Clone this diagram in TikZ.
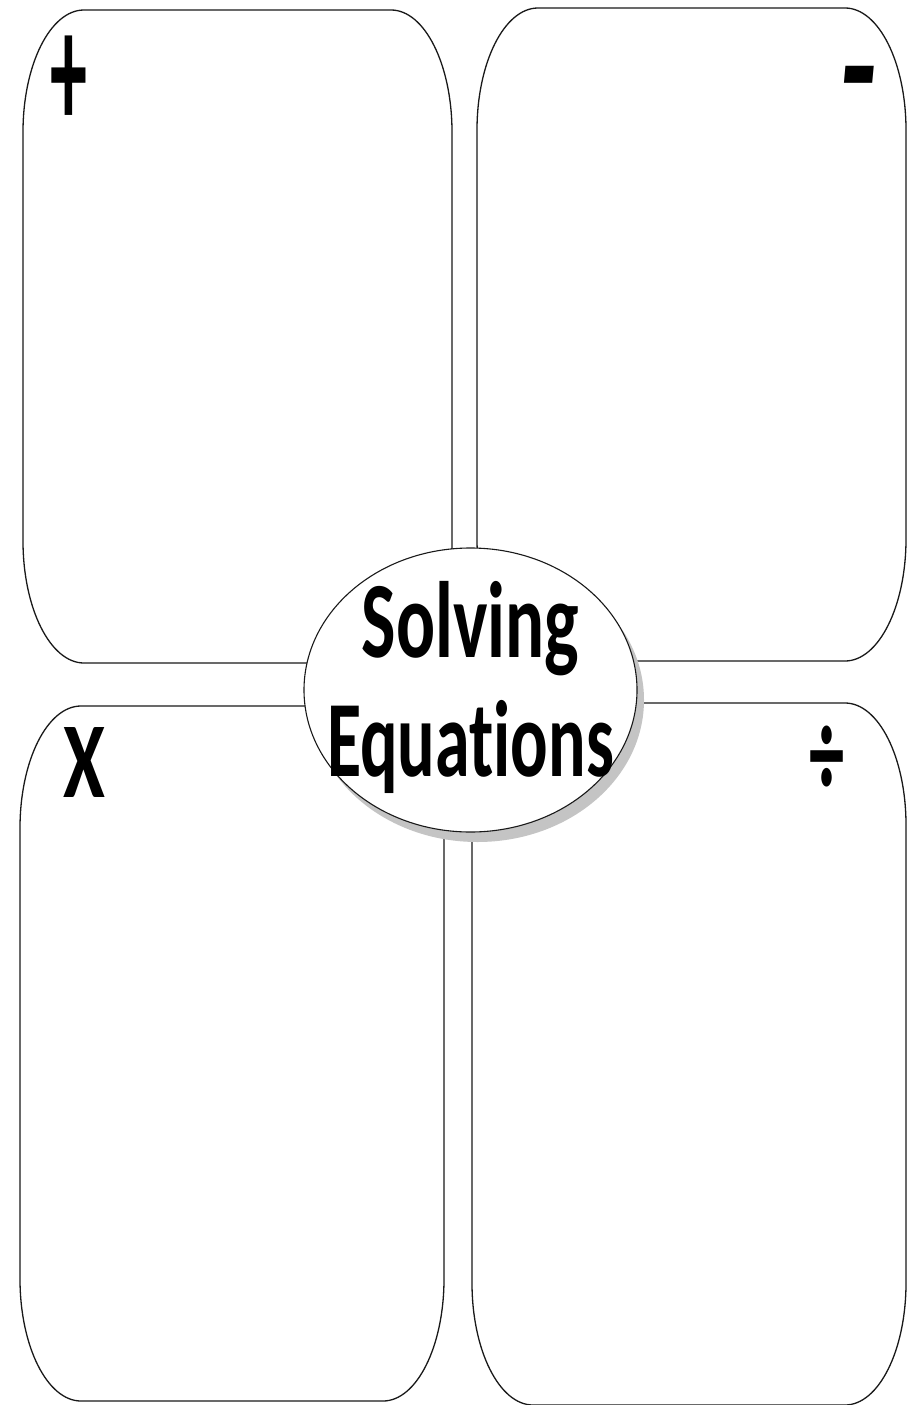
\documentclass[tikz,border=0pt]{standalone}
\usepackage{fontspec}
\setmainfont{Carlito}[Ligatures=NoCommon]
\usetikzlibrary{shapes.geometric,shadows}
\newcommand\rx{61}
\newcommand\ry{122}
\newcommand\ebox[4]{%
\draw[boxline] (#1+\rx,#2) -- (#3-\rx,#2)
 .. controls (#3-0.448*\rx,#2) and (#3,#2+0.448*\ry) .. (#3,#2+\ry)
 -- (#3,#4-\ry)
 .. controls (#3,#4-0.448*\ry) and (#3-0.448*\rx,#4) .. (#3-\rx,#4)
 -- (#1+\rx,#4)
 .. controls (#1+0.448*\rx,#4) and (#1,#4-0.448*\ry) .. (#1,#4-\ry)
 -- (#1,#2+\ry)
 .. controls (#1,#2+0.448*\ry) and (#1+0.448*\rx,#2) .. cycle;}
\tikzset{
  boxline/.style={draw=black!90, line width=1.3pt},
  sym/.style={inner sep=0pt, font=\bfseries},
  hub/.style={ellipse, draw=black!90, line width=1.1pt, fill=white, inner sep=0pt,
    minimum width=333pt, minimum height=284pt,
    drop shadow={shadow xshift=7pt, shadow yshift=-10pt, fill=black!23, opacity=1}},
  title/.style={inner sep=0pt, font=\bfseries}
}
\begin{document}
\begin{tikzpicture}[x=1pt,y=-1pt]
\useasboundingbox (0,0) rectangle (917,1405);
\fill[white] (0,0) rectangle (917,1405);
\ebox{23}{10}{452}{663}
\ebox{477}{8}{906}{661}
\ebox{20}{706}{444}{1401}
\ebox{472}{703}{906}{1405}
\node[sym, anchor=base] (plus) at (69,128.7) {\scalebox{1}[2.26]{\fontsize{74}{74}\selectfont +}};
\node[sym, inner sep=4pt] (minus) at (858,95) {\scalebox{1}[1.38]{\fontsize{124}{124}\selectfont\itshape -}};
\node[sym] (times) at (84.5,763) {\scalebox{1}[1.42]{\fontsize{76}{76}\selectfont X}};
\node[sym, anchor=base] (divide) at (827,796.7) {\scalebox{0.87}[1.56]{\fontsize{81}{81}\selectfont ÷}};
\node[hub] (hub) at (470.5,690) {};
\node[title] (label) at ([yshift=-3pt]hub.center) {\scalebox{1}[1.55]{\fontsize{70}{77.4}\selectfont\begin{tabular}{@{}c@{}}\scalebox{1.04}[1]{Solving}\\Equations\end{tabular}}};
\end{tikzpicture}
\end{document}
